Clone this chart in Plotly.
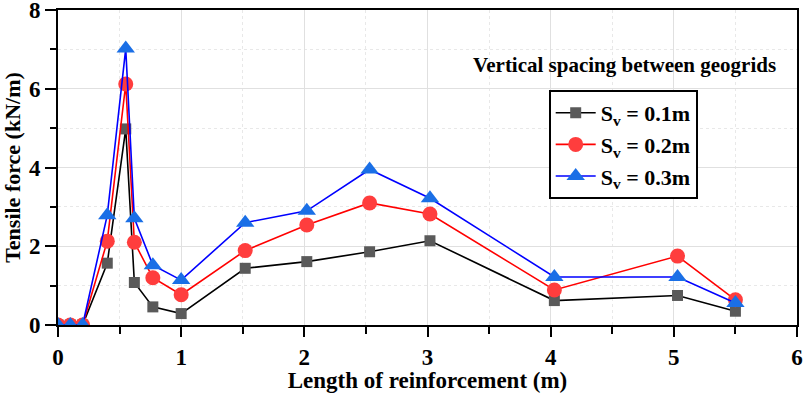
import plotly.graph_objects as go

x_vals = [0, 0.1, 0.2, 0.4, 0.55, 0.62, 0.77, 1.0, 1.52, 2.02, 2.53, 3.02, 4.03, 5.03, 5.5]
sv01 = [0, 0, 0, 1.57, 4.98, 1.08, 0.46, 0.29, 1.44, 1.61, 1.86, 2.14, 0.62, 0.75, 0.35]
sv02 = [0, 0, 0, 2.13, 6.12, 2.10, 1.20, 0.77, 1.89, 2.54, 3.10, 2.82, 0.89, 1.75, 0.64]
sv03 = [0, 0, 0, 2.79, 7.02, 2.71, 1.52, 1.14, 2.60, 2.90, 3.95, 3.22, 1.22, 1.22, 0.56]

series_names = ["S<sub>v</sub> = 0.1m", "S<sub>v</sub> = 0.2m", "S<sub>v</sub> = 0.3m"]
legend_title = "Vertical spacing between geogrids"
x_title = "Length of reinforcement (m)"
y_title = "Tensile force (kN/m)"

FONT = "Liberation Serif"

fig = go.Figure()
styles = [
    (sv01, "black", "#5a5a5a", "square", 11),
    (sv02, "#ff0000", "#ff3d3d", "circle", 15),
    (sv03, "#0000ff", "#1a6fe6", "triangle-up", 16),
]
for name, (ys, lc, mc, sym, sz) in zip(series_names, styles):
    fig.add_trace(go.Scatter(
        x=x_vals, y=ys, mode="lines+markers", name=name,
        line=dict(color=lc, width=1.6),
        marker=dict(symbol=sym, size=sz, color=mc, line=dict(width=0)),
    ))

axis_common = dict(
    showline=True, linecolor="black", linewidth=2, mirror=True,
    ticks="outside", tickcolor="black", tickwidth=2,
    tickfont=dict(family=FONT, size=23, color="black", weight="bold"),
    showgrid=True, gridcolor="#e0e0e0", gridwidth=1,
    zeroline=False, automargin=False, ticklabeloverflow="allow",
)

fig.update_xaxes(
    range=[0, 6], tick0=0, dtick=1, ticklen=10, **axis_common,
    minor=dict(dtick=0.5, tick0=0, showgrid=True, gridcolor="#e8e8e8", griddash="dot",
               ticks="outside", ticklen=7, tickcolor="black", tickwidth=2),
    title=dict(text=x_title, font=dict(family=FONT, size=23, color="black", weight="bold"), standoff=0),
)
fig.update_yaxes(
    range=[0, 8], tick0=0, dtick=2, ticklen=11, **axis_common,
    minor=dict(dtick=1, tick0=0, showgrid=True, gridcolor="#e8e8e8", griddash="dot",
               ticks="outside", ticklen=6, tickcolor="black", tickwidth=2),
    title=dict(text=y_title, font=dict(family=FONT, size=22, color="black", weight="bold"), standoff=4),
)

fig.add_annotation(
    text=legend_title, xref="paper", yref="paper", x=0.767, y=0.825,
    showarrow=False, xanchor="center", yanchor="middle",
    font=dict(family=FONT, size=21, color="black", weight="bold"),
)

fig.update_layout(
    width=803, height=393,
    margin=dict(l=58, r=6, t=10, b=68),
    plot_bgcolor="white", paper_bgcolor="white",
    showlegend=True,
    legend=dict(
        x=0.664, y=0.746, xanchor="left", yanchor="top",
        bordercolor="black", borderwidth=2, bgcolor="white",
        font=dict(family=FONT, size=22, color="black", weight="bold"),
        tracegroupgap=0, itemwidth=40,
    ),
)

fig.write_html(
    "out.html",
    config={"displayModeBar": False},
    post_script="document.body.style.margin='0';document.body.style.overflow='hidden';",
)
